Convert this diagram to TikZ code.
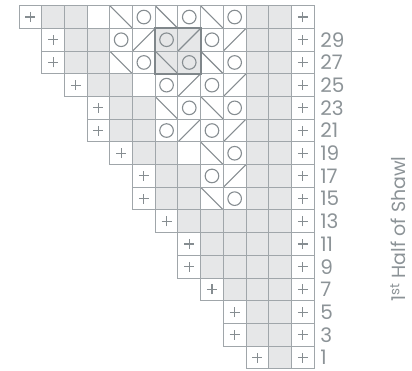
\documentclass[tikz,border=0pt]{standalone}
\usepackage{fontspec}
\setmainfont{Poppins}
\usetikzlibrary{positioning}
\definecolor{ChGrid}{HTML}{A0A6AA}
\definecolor{ChFill}{HTML}{E6E7E8}
\definecolor{ChInk}{HTML}{868D91}
\definecolor{ChFrame}{HTML}{80878B}
\definecolor{ChText}{HTML}{8C9397}

\begin{document}
\begin{tikzpicture}[x=1pt, y=-1pt,
  cell/.style={draw=ChGrid, line width=1pt, fill=white, minimum size=22.7pt, inner sep=0pt, outer sep=0pt, anchor=north west},
  cellknit/.style={cell, fill=ChFill}, cellopen/.style={cell},
  cellplus/.style={cell, path picture={\draw[ChInk, line width=1.1pt] ([xshift=-5pt]path picture bounding box.center) -- ([xshift=5pt]path picture bounding box.center) ([yshift=-5pt]path picture bounding box.center) -- ([yshift=5pt]path picture bounding box.center);}},
  cellyo/.style={cell, path picture={\draw[ChInk, line width=1.1pt] (path picture bounding box.center) circle (6.8pt);}},
  cellssk/.style={cell, path picture={\draw[ChInk, line width=1.1pt] (path picture bounding box.north west) -- (path picture bounding box.south east);}},
  celltog/.style={cell, path picture={\draw[ChInk, line width=1.1pt] (path picture bounding box.south west) -- (path picture bounding box.north east);}},
  cellyoG/.style={cellyo, fill=ChFill}, cellsskG/.style={cellssk, fill=ChFill}, celltogG/.style={celltog, fill=ChFill},
  st/.style={cell#1},
  repeatbox/.style={draw=ChFrame, line width=2pt},
  rowlabel/.style={font=\fontsize{20}{20}\selectfont, text=ChText, inner sep=0pt},
  sidelabel/.style={font=\fontsize{19}{19}\selectfont, text=ChText, inner sep=0pt, rotate=90}]
\useasboundingbox (0,0) rectangle (412,371);
% chart rows, top to bottom: row / first column / stitches
\foreach \r/\s/\row in {
  0/0/{plus,knit,knit,open,ssk,yo,ssk,yo,ssk,yo,knit,knit,plus},
  1/1/{plus,knit,knit,yo,tog,yoG,togG,yo,tog,knit,knit,plus},
  2/1/{plus,knit,knit,ssk,yo,sskG,yoG,ssk,yo,knit,knit,plus},
  3/2/{plus,knit,knit,open,yo,tog,yo,tog,knit,knit,plus},
  4/3/{plus,knit,knit,ssk,yo,ssk,yo,knit,knit,plus},
  5/3/{plus,knit,knit,yo,tog,yo,tog,knit,knit,plus},
  6/4/{plus,knit,knit,open,ssk,yo,knit,knit,plus},
  7/5/{plus,knit,knit,yo,tog,knit,knit,plus},
  8/5/{plus,knit,knit,ssk,yo,knit,knit,plus},
  9/6/{plus,knit,knit,knit,knit,knit,plus},
  10/7/{plus,knit,knit,knit,knit,plus},
  11/7/{plus,knit,knit,knit,knit,plus},
  12/8/{plus,knit,knit,knit,plus},
  13/9/{plus,knit,knit,plus},
  14/9/{plus,knit,knit,plus},
  15/10/{plus,knit,plus}}
  \foreach \k [count=\j from \s] in \row
    \node[st/.expanded=\k] (c\r-\j) at ({19+22.7*\j},{5.7+22.7*\r}) {};
\draw[repeatbox] (c1-6.north west) rectangle (c2-7.south east);
% row numbers
\foreach \r [evaluate=\r as \num using int(31-2*\r)] in {1,...,15}
  \node[rowlabel, right=6pt of c\r-12] (lab\r) {\num};
\node[sidelabel] (title) at (398,229) {1\textsuperscript{st} Half of Shawl};
\end{tikzpicture}
\end{document}
